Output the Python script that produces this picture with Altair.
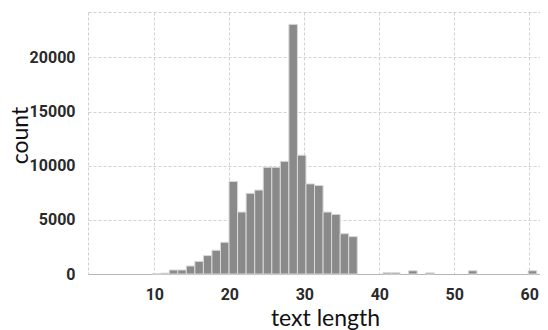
import altair as alt
import pandas as pd

# histogram of text length: 50 equal bins from 4 to 61
BIN_START = 4.0
BIN_WIDTH = 1.14
counts = [
    0, 0, 0, 0, 0, 20, 80, 370, 370, 740,
    1170, 1700, 2190, 2930, 8550, 5720, 7450, 7750, 9850, 9850,
    10400, 23050, 10970, 8320, 8170, 5720, 5500, 3720, 3450, 0,
    0, 0, 120, 120, 0, 300, 0, 100, 0, 0,
    0, 0, 300, 0, 0, 0, 0, 0, 0, 300,
]
x_ticks = [10, 20, 30, 40, 50, 60]
y_ticks = [0, 5000, 10000, 15000, 20000]

df = pd.DataFrame({
    "start": [BIN_START + i * BIN_WIDTH for i in range(len(counts))],
    "end": [BIN_START + (i + 1) * BIN_WIDTH for i in range(len(counts))],
    "count": counts,
})

chart = alt.Chart(df).transform_filter(
    alt.datum["count"] > 0
).mark_bar(
    color="#8a8a8a", stroke="#d9d9d9", strokeWidth=1
).encode(
    x=alt.X("start:Q",
            scale=alt.Scale(domain=[1.15, 61.43], nice=False, zero=False),
            axis=alt.Axis(values=x_ticks, title="text length", grid=True,
                          ticks=False, labelPadding=12, titleX=237, titleY=51,
                          titleBaseline="alphabetic", format="d")),
    x2="end:Q",
    y=alt.Y("count:Q",
            scale=alt.Scale(domain=[0, 24190], nice=False),
            axis=alt.Axis(values=y_ticks, title="count", grid=True,
                          ticks=False, labelPadding=13, domain=False,
                          titleX=-68, titleY=123, titleAngle=-90,
                          titleAlign="center", titleBaseline="middle",
                          format="d")),
    y2=alt.datum(0),
).properties(
    width=452, height=262,
    autosize="none",
    padding={"left": 80, "top": 4, "right": 0, "bottom": 56},
).configure_view(
    stroke="#cfcfcf", strokeDash=[3, 2], strokeWidth=1
).configure_axis(
    gridColor="#d2d2d2", gridDash=[3, 2], gridWidth=1,
    domainColor="#b5b5b5", domainWidth=1,
    labelFont="Roboto", labelFontSize=16, labelFontWeight="bold",
    labelColor="#2a2a2a",
    titleFont="Lato", titleFontSize=23, titleFontWeight="normal",
    titleColor="#111111",
)

chart.save("out.html", embed_options={"renderer": "svg", "actions": False})
